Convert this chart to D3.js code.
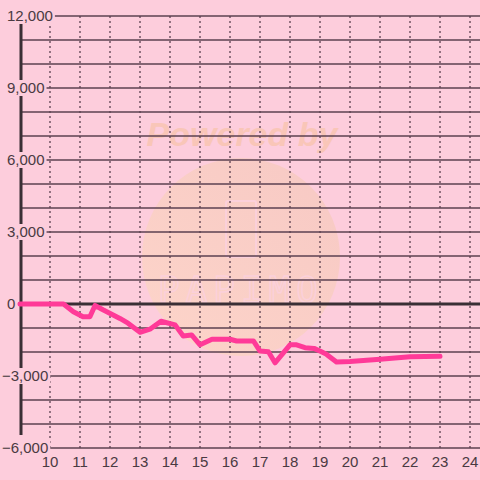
<!DOCTYPE html>
<html><head><meta charset="utf-8">
<script src="https://cdn.jsdelivr.net/npm/d3@7"></script>
<style>html,body{margin:0;padding:0;background:#fdcddc;}svg{display:block;}</style>
</head><body>
<svg id="c" width="480" height="480"></svg>
<script>
const xValues = [9, 10.45, 10.78, 11.1, 11.33, 11.5, 11.78, 12.33, 12.6, 13, 13.33, 13.7, 14.17, 14.44, 14.72, 15, 15.4, 16, 16.22, 16.78, 17, 17.28, 17.5, 18, 18.22, 18.5, 18.8, 19.05, 19.22, 19.55, 20, 21, 22, 23];
const yValues = [0, 0, -320, -530, -530, -60, -250, -600, -800, -1180, -1050, -720, -870, -1330, -1290, -1700, -1470, -1470, -1540, -1540, -1960, -1990, -2450, -1700, -1700, -1820, -1850, -1990, -2100, -2420, -2400, -2300, -2200, -2180];
const xTicks = [10,11,12,13,14,15,16,17,18,19,20,21,22,23,24];
const yTicks = [-6000, -3000, 0, 3000, 6000, 9000, 12000];
const yGrid = d3.range(-6000, 12001, 1000);

const svg = d3.select("#c");
const x = d3.scaleLinear().domain([9, 24.333]).range([20, 480]);
const y = d3.scaleLinear().domain([-6000, 12000]).range([448, 16]);

svg.append("rect").attr("width",480).attr("height",480).attr("fill","#fdcddc");

// watermark
const defs = svg.append("defs");
const g = defs.append("linearGradient").attr("id","wm").attr("x1","0").attr("y1","1").attr("x2","1").attr("y2","0");
g.append("stop").attr("offset","0").attr("stop-color","#fdd6c6");
g.append("stop").attr("offset","1").attr("stop-color","#f6c8c0");
svg.append("circle").attr("cx",241).attr("cy",257).attr("r",99).attr("fill","url(#wm)").attr("opacity",0.85);
svg.append("text").attr("x",242).attr("y",146).attr("text-anchor","middle")
  .attr("font-family","Liberation Sans, Arial, sans-serif").attr("font-weight","bold").attr("font-style","italic")
  .attr("font-size",34).attr("fill","#f9c6b8").text("Powered by");
svg.append("rect").attr("x",226).attr("y",201).attr("width",30).attr("height",56).attr("rx",2)
  .attr("fill","none").attr("stroke","#fbd0da").attr("stroke-width",2);
svg.append("text").attr("x",241).attr("y",302).attr("text-anchor","middle")
  .attr("font-family","DejaVu Sans Mono, monospace").attr("font-size",36).attr("letter-spacing",6)
  .attr("fill","none").attr("stroke","#fbd0da").attr("stroke-width",1.5).text("PAPIMO");

// horizontal grid
const hg = svg.append("g").attr("class","hgrid");
hg.selectAll("line").data(yGrid.filter(d => d !== 0)).join("line")
  .attr("x1", d => d === -6000 ? 50 : 21).attr("x2", 480)
  .attr("y1", d => y(d)).attr("y2", d => y(d))
  .attr("stroke", "#5b4150").attr("stroke-width", 1.4);

// vertical dotted grid
const vg = svg.append("g").attr("class","vgrid");
vg.selectAll("line").data(xTicks).join("line")
  .attr("x1", d => x(d)).attr("x2", d => x(d))
  .attr("y1", y(12000)).attr("y2", y(-6000))
  .attr("stroke", "#5b4150").attr("stroke-width", 1.3).attr("stroke-dasharray", "2,3");

// zero line
svg.append("line").attr("x1", 18).attr("x2", 480).attr("y1", y(0)).attr("y2", y(0))
  .attr("stroke", "#3a2f35").attr("stroke-width", 3);

// vertical axis
svg.append("line").attr("x1", 21).attr("x2", 21).attr("y1", 24).attr("y2", 435)
  .attr("stroke", "#3a2f35").attr("stroke-width", 3);

// y labels with background
const yl = svg.append("g");
yTicks.forEach(t => {
  const lbl = d3.format(",")(t);
  const tx = t < 0 ? 2 : 7;
  const txt = yl.append("text").attr("x", tx).attr("y", y(t)).attr("dy", "0.35em")
    .attr("font-family", "Liberation Sans, Arial, sans-serif").attr("font-size", 15)
    .attr("fill", "#4a3a42").text(lbl);
  const bb = txt.node().getBBox();
  yl.insert("rect", "text").attr("x", bb.x - 1).attr("y", y(t) - 8).attr("width", bb.width + 3).attr("height", 16)
    .attr("fill", "#fdcddc");
});

// x labels
svg.append("g").selectAll("text").data(xTicks).join("text")
  .attr("x", d => x(d)).attr("y", 467).attr("text-anchor", "middle")
  .attr("font-family", "Liberation Sans, Arial, sans-serif").attr("font-size", 15)
  .attr("fill", "#4a3a42").text(d => d);

// data line
const data = xValues.map((v, i) => [v, yValues[i]]);
svg.append("path").datum(data)
  .attr("d", d3.line().x(d => x(d[0])).y(d => y(d[1])))
  .attr("fill", "none").attr("stroke", "#ff3a98").attr("stroke-width", 5)
  .attr("stroke-linecap", "round").attr("stroke-linejoin", "round");
</script>
</body></html>
